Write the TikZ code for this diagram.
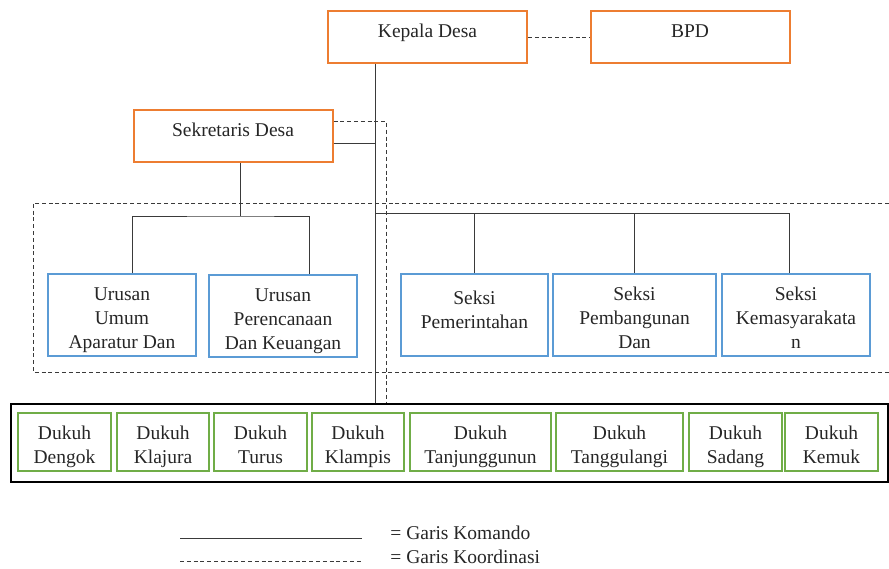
\documentclass[tikz,border=0pt]{standalone}
\usepackage{fontspec}
\usepackage{xcolor}
\setmainfont{Liberation Serif}
\definecolor{kotakOranye}{HTML}{ED7D31}
\definecolor{kotakBiru}{HTML}{5B9BD5}
\definecolor{kotakHijau}{HTML}{70AD47}
\definecolor{garis}{HTML}{3A3A3A}
\tikzset{
  kotak/.style={draw, rectangle, line width=1pt, inner sep=0pt},
  jabatan/.style={kotak, draw=kotakOranye, minimum width=99.5pt, minimum height=26pt},
  urusan/.style={kotak, draw=kotakBiru, minimum width=74pt, minimum height=41pt},
  dukuh/.style={kotak, draw=kotakHijau, minimum width=46.5pt, minimum height=29pt},
  isi/.style={anchor=north, yshift=-7pt, align=center, inner sep=0pt, text=black!85},
  komando/.style={draw=garis, line width=0.5pt},
  koordinasi/.style={draw=garis, line width=0.45pt, dash pattern=on 2pt off 1.4pt}
}
\begin{document}
\begin{tikzpicture}[x=0.5pt, y=-0.5pt, font=\fontsize{9.75}{12}\selectfont]
\useasboundingbox (0,0) rectangle (889,568);

\node[jabatan, label={[isi]north:Kepala Desa}] (kades) at (427.5,37) {};
\node[jabatan, label={[isi]north:BPD}] (bpd) at (690,37) {};
\node[jabatan, label={[isi]north:Sekretaris Desa}] (sekdes) at (233,136) {};

\node[urusan, label={[isi]north:Urusan\\Umum\\Aparatur Dan}] (umum) at (122,315) {};
\node[urusan, label={[isi]north:Urusan\\Perencanaan\\Dan Keuangan}] (renc) at (283,316) {};
\node[urusan, minimum width=73.5pt, label={[isi, yshift=-2pt]north:Seksi\\Pemerintahan}] (pem) at (474.5,315) {};
\node[urusan, minimum width=81.5pt, label={[isi]north:Seksi\\Pembangunan\\Dan}] (bang) at (634.5,315) {};
\node[urusan, label={[isi]north:Seksi\\Kemasyarakata\\n}] (kemas) at (796,315) {};

\node[draw=black, line width=1.2pt, minimum width=438.5pt, minimum height=39pt, inner sep=0pt] (wilayah) at (449.5,443) {};
\node[dukuh, label={[isi]north:Dukuh\\Dengok}] (dengok) at (64.5,442) {};
\node[dukuh, minimum width=46pt, label={[isi]north:Dukuh\\Klajura}] (klajura) at (163,442) {};
\node[dukuh, label={[isi]north:Dukuh\\Turus}] (turus) at (260.5,442) {};
\node[dukuh, minimum width=46pt, label={[isi]north:Dukuh\\Klampis}] (klampis) at (358,442) {};
\node[dukuh, minimum width=70.5pt, label={[isi]north:Dukuh\\Tanjunggunun}] (tanjung) at (480.5,442) {};
\node[dukuh, minimum width=63.5pt, label={[isi]north:Dukuh\\Tanggulangi}] (tanggul) at (619.5,442) {};
\node[dukuh, label={[isi]north:Dukuh\\Sadang}] (sadang) at (735.5,442) {};
\node[dukuh, label={[isi]north:Dukuh\\Kemuk}] (kemuk) at (831.5,442) {};

\coordinate (poros) at (375,213);
\coordinate (cabang) at (240,216);
\coordinate (garisAtas) at (386,0);

% garis komando
\draw[komando] (kades.south -| poros) -- (poros |- wilayah.north);
\draw[komando] ([yshift=-3.5pt]sekdes.east) -- ([yshift=-3.5pt]sekdes.east -| poros);
\draw[komando] (sekdes.south -| cabang) -- (cabang);
\draw[komando] (umum.north -| 132,0) |- (cabang) -| (renc.north -| 309,0);
\draw[komando] (poros) -| ([xshift=-3.5pt]kemas.north);
\draw[komando] (pem.north) -- (pem.north |- poros);
\draw[komando] (bang.north) -- (bang.north |- poros);

% garis koordinasi
\draw[koordinasi] (kades.east) -- (bpd.west);
\draw[koordinasi] ([yshift=7.5pt]sekdes.east) -| (garisAtas |- wilayah.north);
\draw[koordinasi] (889,203) -- (33,203) -- (33,372) -- (889,372);

% keterangan
\coordinate (k1) at (180,538);
\coordinate (k2) at (362,538);
\coordinate (k3) at (180,561);
\coordinate (k4) at (362,561);
\draw[komando] (k1) -- (k2);
\draw[koordinasi, line width=0.4pt] (k3) -- (k4);
\node[anchor=west, inner sep=0pt, text=black!85] (ketKomando) at (390,533) {= Garis Komando};
\node[anchor=west, inner sep=0pt, text=black!85] (ketKoordinasi) at (390,557) {= Garis Koordinasi};
\end{tikzpicture}
\end{document}
